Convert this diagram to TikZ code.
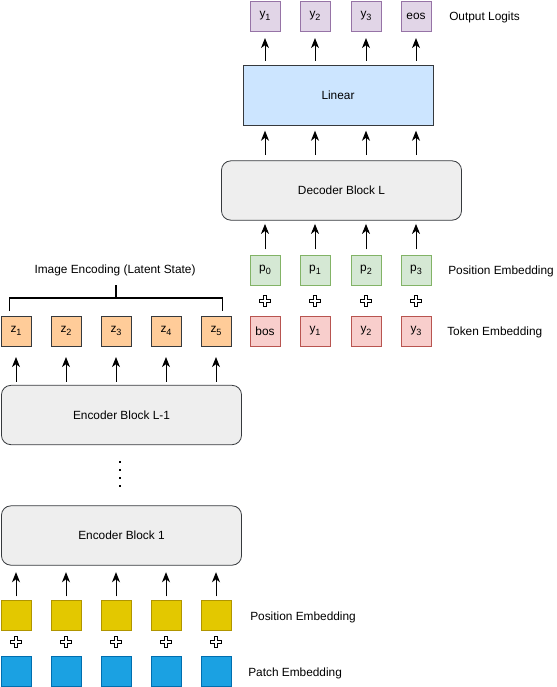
\documentclass[tikz,border=0pt]{standalone}
\usepackage{fontspec}
\setmainfont{Liberation Sans}
\usetikzlibrary{arrows.meta,calc}
\newcommand{\sbs}[1]{\raisebox{-0.45ex}{\fontsize{6.8}{7}\selectfont #1}}
\begin{document}
\begin{tikzpicture}[x=0.75pt,y=-0.75pt,
  font=\fontsize{8.9}{10}\selectfont,
  sq/.style={draw,line width=0.6pt,minimum width=22.5pt,minimum height=22.5pt,inner sep=0pt,anchor=center},
  outsq/.style={sq,fill=outfill,draw=outdraw},
  posq/.style={sq,fill=posfill,draw=posdraw},
  tokq/.style={sq,fill=tokfill,draw=tokdraw},
  zq/.style={sq,fill=zfill,draw=zdraw},
  yelq/.style={sq,fill=yelfill,draw=yeldraw},
  bluq/.style={sq,fill=blufill,draw=bludraw},
  blk/.style={draw=zdraw,fill=blkfill,line width=0.6pt,rounded corners=7pt,minimum width=180pt,minimum height=44.5pt,inner sep=0pt},
  arr/.style={-{Stealth[length=7.5pt,width=6pt,inset=2.2pt]},line width=0.7pt},
  lbl/.style={anchor=west,inner sep=0pt},
  plusshape/.style={draw=black,fill=white,line width=0.5pt}
]
\definecolor{outfill}{HTML}{E1D5E7}\definecolor{outdraw}{HTML}{9673A6}
\definecolor{posfill}{HTML}{D5E8D4}\definecolor{posdraw}{HTML}{82B366}
\definecolor{tokfill}{HTML}{F8CECC}\definecolor{tokdraw}{HTML}{B85450}
\definecolor{zfill}{HTML}{FFCC99}\definecolor{zdraw}{HTML}{36393D}
\definecolor{yelfill}{HTML}{E3C800}\definecolor{yeldraw}{HTML}{B09500}
\definecolor{blufill}{HTML}{1BA1E2}\definecolor{bludraw}{HTML}{006EAF}
\definecolor{linfill}{HTML}{CCE5FF}\definecolor{blkfill}{HTML}{EEEEEE}
\useasboundingbox (0,0) rectangle (557,687);

% ---- decoder side
\foreach \i/\x/\t in {1/265/y\sbs{1},2/315/y\sbs{2},3/366/y\sbs{3},4/416/eos}
  \node[outsq] (o\i) at (\x,16) {\t};
\node[lbl] (outlbl) at (449,17) {Output Logits};
\node[draw=zdraw,fill=linfill,line width=0.6pt,minimum width=142.5pt,minimum height=45pt,inner sep=0pt] (lin) at (338,95) {Linear};
\node[blk] (dec) at (341.5,190.5) {Decoder Block L};
\foreach \i/\x/\t in {0/265/p\sbs{0},1/315/p\sbs{1},2/366/p\sbs{2},3/416/p\sbs{3}}
  \node[posq] (p\i) at (\x,270) {\t};
\node[lbl] (poslbl) at (448,271) {Position Embedding};
\foreach \i/\x/\t in {0/265/bos,1/315/y\sbs{1},2/366/y\sbs{2},3/416/y\sbs{3}}
  \node[tokq] (t\i) at (\x,331) {\t};
\node[lbl] (toklbl) at (447,332) {Token Embedding};

\foreach \i in {1,2,3,4}
  \draw[arr,shorten <=3pt,shorten >=5pt] (o\i |- lin.north) -- (o\i.south);
\foreach \i in {1,2,3,4}
  \draw[arr,shorten <=4pt,shorten >=4pt] (o\i |- dec.north) -- (o\i |- lin.south);
\foreach \i/\j in {0/1,1/2,2/3,3/4}
  \draw[arr,shorten <=4pt,shorten >=2.5pt] (p\i.north) -- (o\j |- dec.south);

% ---- encoder side
\foreach \i/\x in {1/16,2/66,3/116,4/166,5/216}
  \node[zq] (z\i) at (\x,331) {z\sbs{\i}};
\node (imglbl) at (115,270) {Image Encoding (Latent State)};
\coordinate (bl) at (9.5,311);
\coordinate (br) at (222.5,311);
\coordinate (btop) at (116,285);
\draw[line width=1.1pt] (bl) -- (9.5,298) -- (222.5,298) -- (br);
\draw[line width=1.1pt] (btop) -- (116,298);

\node[blk] (encL) at (121.5,415) {Encoder Block L-1};
\node[blk] (enc1) at (121.5,535.5) {Encoder Block 1};
\foreach \y/\n in {462/d1,470/d2,478/d3,486/d4}
  \node[fill=black,minimum size=2.2pt,inner sep=0pt] (\n) at (120,\y) {};

\foreach \i/\x in {1/16,2/66,3/116,4/166,5/216}
  \node[yelq] (ye\i) at (\x,615) {};
\node[lbl] (yellbl) at (250,617) {Position Embedding};
\foreach \i/\x in {1/16,2/66,3/116,4/166,5/216}
  \node[bluq] (bu\i) at (\x,671) {};
\node[lbl] (blulbl) at (248,673) {Patch Embedding};

\foreach \i in {1,...,5}
  \draw[arr,shorten <=2.5pt,shorten >=8pt] (z\i |- encL.north) -- (z\i.south);
\foreach \i in {1,...,5}
  \draw[arr,shorten <=2.5pt,shorten >=5pt] (ye\i.north) -- (ye\i |- enc1.south);

% ---- plus signs
\foreach \x/\y in {265/301,315/301,366/301,416/301,16/642,66/642,116/642,166/642,216/642}
  \draw[plusshape] (\x-1.8,\y-5.5) -- (\x+1.8,\y-5.5) -- (\x+1.8,\y-1.8) -- (\x+5.5,\y-1.8) -- (\x+5.5,\y+1.8) -- (\x+1.8,\y+1.8) -- (\x+1.8,\y+5.5) -- (\x-1.8,\y+5.5) -- (\x-1.8,\y+1.8) -- (\x-5.5,\y+1.8) -- (\x-5.5,\y-1.8) -- (\x-1.8,\y-1.8) -- cycle;
\end{tikzpicture}
\end{document}
